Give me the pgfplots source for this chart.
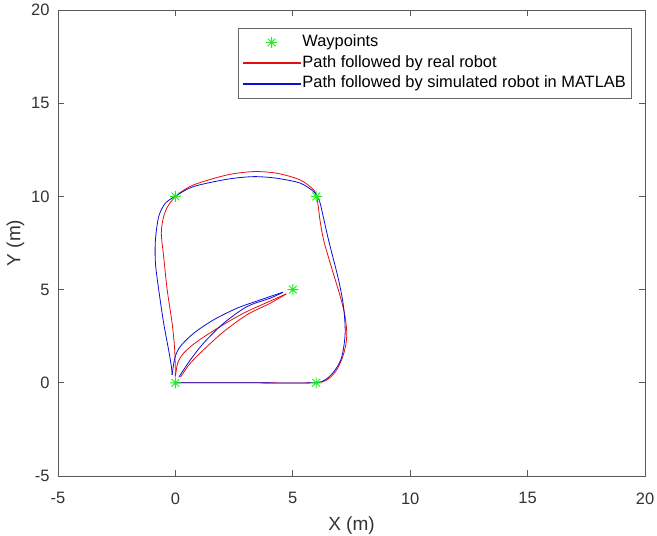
\documentclass[border=0pt]{standalone}
\usepackage{pgfplots}
\pgfplotsset{compat=1.18}
\usepackage{fontspec}
\setmainfont{Liberation Sans}
\definecolor{mred}{rgb}{0.9,0.05,0.05}
\definecolor{mblue}{rgb}{0.05,0.05,0.85}
\definecolor{mgreen}{rgb}{0.1,0.95,0.1}
\definecolor{axgray}{rgb}{0.35,0.35,0.35}
\pgfdeclareplotmark{mstar}{%
  \pgfpathmoveto{\pgfqpoint{-\pgfplotmarksize}{0pt}}\pgfpathlineto{\pgfqpoint{\pgfplotmarksize}{0pt}}%
  \pgfpathmoveto{\pgfqpoint{0pt}{-\pgfplotmarksize}}\pgfpathlineto{\pgfqpoint{0pt}{\pgfplotmarksize}}%
  \pgfpathmoveto{\pgfqpoint{-0.707\pgfplotmarksize}{-0.707\pgfplotmarksize}}\pgfpathlineto{\pgfqpoint{0.707\pgfplotmarksize}{0.707\pgfplotmarksize}}%
  \pgfpathmoveto{\pgfqpoint{-0.707\pgfplotmarksize}{0.707\pgfplotmarksize}}\pgfpathlineto{\pgfqpoint{0.707\pgfplotmarksize}{-0.707\pgfplotmarksize}}%
  \pgfusepathqstroke}
\pgfplotsset{
  redline/.style={legend image code/.code={\fill[mred] (0cm,-0.5pt) rectangle (2.0cm,0.5pt);}},
  blueline/.style={legend image code/.code={\fill[mblue] (0cm,-0.5pt) rectangle (2.0cm,0.5pt);}},
  starlegend/.style={legend image code/.code={\draw[mark repeat=2,mark phase=2,##1] plot coordinates {(0cm,0cm) (1cm,0cm) (2cm,0cm)};}},
}
\begin{document}
\begin{tikzpicture}
\begin{axis}[
  scale only axis,
  width=587pt, height=466pt,
  xmin=-5, xmax=20, ymin=-5, ymax=20,
  xtick={-5,0,5,10,15,20}, ytick={-5,0,5,10,15,20},
  tick align=inside, major tick length=6pt,
  axis line style={axgray, line width=0.9pt},
  tick style={axgray, line width=0.8pt},
  /pgf/number format/assume math mode=true,
  ticklabel style={font=\fontsize{16.5}{16.5}\selectfont, text=black!80},
  xticklabel style={yshift=-13pt},
  yticklabel style={xshift=-5pt},
  label style={font=\fontsize{19}{19}\selectfont, text=black!80},
  xlabel={X (m)}, ylabel={Y (m)},
  xlabel style={yshift=-6pt},
  ylabel style={yshift=0pt},
  legend style={at={(0.978,0.961)}, anchor=north east, draw=black!60, line width=0.6pt,
    font=\fontsize{16.4}{19}\selectfont, inner xsep=4pt, inner ysep=4pt,
    row sep=0.7pt,
    nodes={inner xsep=2pt, inner ysep=2pt, text height=12pt, text depth=4pt}},
  legend cell align=left,
]
\addplot[only marks, mark=mstar, mark size=5.5pt, mgreen, line width=0.9pt, starlegend]
  coordinates {(0,0) (6,0) (6,10) (0,10) (5,5)};
\addlegendentry{Waypoints}
% real robot
\addplot[mred, line width=0.8pt, smooth, tension=0.5, redline] coordinates {
 (0,0) (3,0) (5.8,0) (6.4,0.12) (6.82,0.6) (7.1,1.3) (7.25,2.0) (7.3,2.66) (7.22,3.6) (7.05,4.5)
 (6.81,5.52) (6.55,6.6) (6.31,7.67) (6.16,8.7) (6.08,9.5) (6.0,10.05) (5.89,10.35) (5.32,10.88)
 (4.33,11.24) (3.33,11.33) (2.2,11.15) (0.78,10.62) (0.1,10.1) (-0.29,9.54) (-0.5,8.92) (-0.6,8.03)
 (-0.5,6.77) (-0.35,4.99) (-0.14,3.2) (-0.03,1.77) (0.0,0.34)};
\addlegendentry{Path followed by real robot}
\addplot[mred, line width=0.8pt, smooth, tension=0.5, forget plot] coordinates {
 (0.0,0.34) (0.1,1.06) (0.35,1.59) (0.92,2.21) (1.91,3.02) (2.91,3.74) (3.9,4.31) (4.72,4.77)};
\addplot[mred, line width=0.8pt, smooth, tension=0.5, forget plot] coordinates {
 (4.72,4.77) (4.04,4.27) (3.05,3.65) (2.06,2.75) (1.2,1.77) (0.64,1.06) (0.28,0.43) (0.22,0.3)};
% simulated robot
\addplot[mblue, line width=0.8pt, smooth, tension=0.5, blueline] coordinates {
 (0,0) (3,0) (5.8,0) (6.38,0.16) (6.81,0.70) (7.09,1.41) (7.23,2.66) (7.16,4.09) (6.95,5.52)
 (6.52,7.67) (6.3,8.9) (6.15,9.7) (6.02,10.05) (5.89,10.26) (5.32,10.71) (4.33,10.97) (3.33,11.06)
 (2.2,10.92) (0.78,10.53) (0.05,10.05) (-0.43,9.63) (-0.71,8.92) (-0.85,7.67) (-0.85,6.42)
 (-0.71,4.99) (-0.5,3.2) (-0.29,1.77) (-0.17,0.87) (-0.14,0.43)};
\addlegendentry{Path followed by simulated robot in MATLAB}
\addplot[mblue, line width=0.8pt, smooth, tension=0.5, forget plot] coordinates {
 (-0.14,0.43) (-0.02,1.35) (0.21,1.95) (0.78,2.66) (1.63,3.38) (2.62,4.0) (3.62,4.45) (4.58,4.86)};
\addplot[mblue, line width=0.8pt, smooth, tension=0.5, forget plot] coordinates {
 (4.58,4.86) (4.04,4.54) (3.05,4.09) (2.06,3.2) (1.2,2.13) (0.64,1.23) (0.21,0.43) (0.15,0.3)};
\end{axis}
\pgfresetboundingbox
\path[use as bounding box] ([xshift=-58pt,yshift=-59pt]current axis.south west) rectangle ([xshift=12pt,yshift=10pt]current axis.north east);
\end{tikzpicture}
\end{document}
